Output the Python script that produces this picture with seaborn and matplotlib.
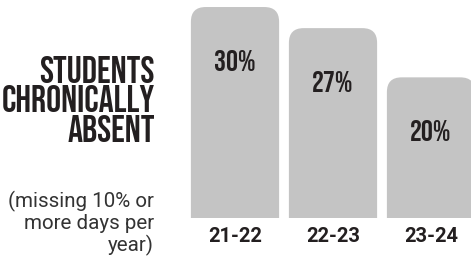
import matplotlib
matplotlib.use("Agg")
import matplotlib.pyplot as plt
import seaborn as sns
import pandas as pd
from matplotlib.patches import FancyBboxPatch

years = ['21-22', '22-23', '23-24']
pct_absent = [30, 27, 20]
title_lines = ['STUDENTS', 'CHRONICALLY', 'ABSENT']
note_lines = ['(missing 10% or', 'more days per', 'year)']

df = pd.DataFrame({'year': years, 'pct': pct_absent})

sns.set_theme(style='white')
plt.rcParams['font.family'] = ['Roboto', 'DejaVu Sans']
narrow = ['Bebas Neue', 'Oswald', 'Roboto Condensed', 'DejaVu Sans']
ink = '#231f20'
bar_grey = '#c4c4c4'

fig = plt.figure(figsize=(4.71, 2.58), dpi=100)
ax = fig.add_axes([186/471, 40/258, 285/471, 218/258])

sns.barplot(data=df, x='year', y='pct', color=bar_grey, width=0.9, saturation=1, ax=ax)

# swap the flat bars for ones with rounded tops
for p in list(ax.patches):
    x0, w, h = p.get_x(), p.get_width(), p.get_height()
    p.remove()
    rb = FancyBboxPatch((x0, -4), w, h + 4,
                        boxstyle='round,pad=0,rounding_size=0.15',
                        mutation_aspect=13.9, facecolor=bar_grey, edgecolor='none')
    ax.add_patch(rb)

for i, v in enumerate(pct_absent):
    ax.text(i, v - 7.6, f'{v}%', ha='center', va='center', fontsize=21.5,
            family=narrow, color=ink)

ax.set_xlim(-0.5, -0.5 + 285/98)
ax.set_ylim(0, 31.0)
ax.set_xlabel('')
ax.set_ylabel('')
ax.set_yticks([])
ax.tick_params(axis='x', length=0, pad=6.5, labelsize=14.5, labelcolor=ink)
for lab in ax.get_xticklabels():
    lab.set_fontweight('bold')
sns.despine(ax=ax, left=True, bottom=True)

fig.text(155/471, (258-142)/258, '\n'.join(title_lines), ha='right', va='baseline',
         fontsize=27, family=narrow, color=ink, linespacing=1.1)
fig.text(154/471, (258-251)/258, '\n'.join(note_lines), ha='right', va='baseline',
         fontsize=14.8, color='#333333', linespacing=1.1)

fig.savefig('out.png', dpi=100)
